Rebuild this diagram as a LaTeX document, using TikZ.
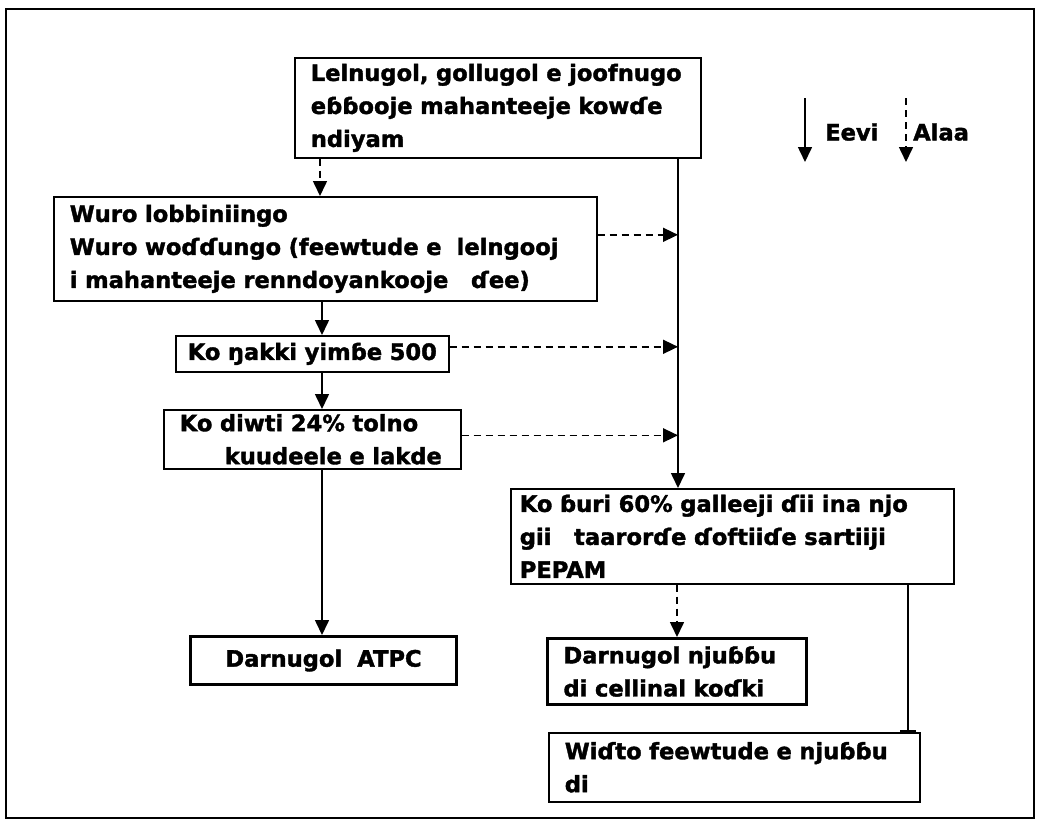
\documentclass[tikz,border=0pt]{standalone}
\usepackage{fontspec}
\setmainfont{DejaVu Sans}[BoldFeatures={FakeBold=1.6}]
\usetikzlibrary{arrows.meta}

\tikzset{
  box/.style={draw, rectangle, line width=1.6pt, anchor=north west, inner ysep=0pt,
    align=left, font=\bfseries\fontsize{22.6}{33}\selectfont},
  heavy/.style={box, line width=3pt},
  yes/.style={line width=1.6pt, -{Triangle[width=14pt,length=15pt]}},
  no/.style={yes, dash pattern=on 7pt off 5pt},
  word/.style={font=\bfseries\fontsize{22.6}{33}\selectfont}
}

\begin{document}
\begin{tikzpicture}[x=1pt,y=-1pt]

            %\draw [help lines] (0,0) grid (1043,827);
            \useasboundingbox (0,0) rectangle (1043,827);
            \draw [line width=2.5pt] (6,9) rectangle (1034,818);

            \path   (294,57)  node (a) [box, minimum width=406pt, minimum height=100pt, text width=374pt, inner xsep=16pt]
                        {Lelnugol, gollugol e joofnugo\\eɓɓooje mahanteeje kowɗe\\ndiyam}
                    (53,196)  node (b) [box, minimum width=543pt, minimum height=104pt, text width=511pt, inner xsep=16pt]
                        {Wuro lobbiniingo\\Wuro woɗɗungo (feewtude e\ \ lelngooj\\i mahanteeje renndoyankooje\ \ \ ɗee)}
                    (175,335) node (c) [box, minimum width=273pt, minimum height=36pt, text width=253pt, inner xsep=10pt, align=center]
                        {Ko ŋakki yimɓe 500}
                    (163,409) node (d) [box, minimum width=297pt, minimum height=59pt, text width=265pt, inner xsep=16pt]
                        {Ko diwti 24\% tolno\\\hspace{45pt}kuudeele e lakde}
                    (510,488) node (e) [box, minimum width=443pt, minimum height=95pt, text width=425pt, inner xsep=9pt]
                        {Ko ɓuri 60\% galleeji ɗii ina njo\\gii\ \ \ taarorɗe ɗoftiiɗe sartiiji\\PEPAM}
                    (189,635) node (f) [heavy, minimum width=266pt, minimum height=48pt, text width=240pt, inner xsep=13pt, align=center]
                        {Darnugol\ \ ATPC\\[-6pt]}
                    (546,637) node (g) [heavy, minimum width=259pt, minimum height=66pt, text width=227pt, inner xsep=16pt]
                        {Darnugol njuɓɓu\\di cellinal koɗki}
                    (548,732) node (h) [box, minimum width=371pt, minimum height=69pt, text width=339pt, inner xsep=16pt]
                        {Wiɗto feewtude e njuɓɓu\\di};

            \coordinate (spine) at (678,0);
            \coordinate (chain) at (322,0);

            \draw[no]  (a.south -| 320,0) -- (b.north -| 320,0);
            \draw[yes] (a.south -| spine) -- (e.north -| spine);
            \draw[no]  ([yshift=14pt]b.east) -- ([yshift=14pt]b.east -| spine);
            \draw[no]  ([yshift=7pt]c.east) -- ([yshift=7pt]c.east -| spine);
            \draw[no]  ([yshift=4pt]d.east) -- ([yshift=4pt]d.east -| spine);

            \draw[yes] (b.south -| chain) -- (c.north -| chain);
            \draw[yes] (c.south -| chain) -- (d.north -| chain);
            \draw[yes] (d.south -| chain) -- (f.north -| chain);

            \draw[no]  (e.south -| 677,0) -- (g.north -| 677,0);
            \draw[line width=1.6pt, -{Bar[width=16pt]}] (e.south -| 908,0) -- (h.north -| 908,0);

            % legend
            \coordinate (y1) at (805,98);
            \coordinate (y2) at (805,162);
            \coordinate (n1) at (906,98);
            \coordinate (n2) at (906,162);
            \path   (825,132) node (eevi) [word, anchor=west, inner sep=0pt] {Eevi}
                    (913,132) node (alaa) [word, anchor=west, inner sep=0pt] {Alaa};
            \draw[yes] (y1) -- (y2);
            \draw[no]  (n1) -- (n2);
        \end{tikzpicture}
\end{document}
